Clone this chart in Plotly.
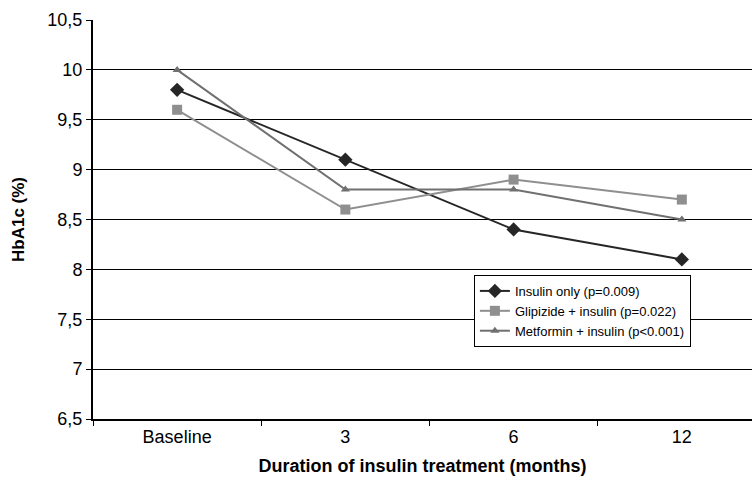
import plotly.graph_objects as go

categories = ["Baseline", "3", "6", "12"]
insulin_only = [9.8, 9.1, 8.4, 8.1]
glipizide_insulin = [9.6, 8.6, 8.9, 8.7]
metformin_insulin = [10.0, 8.8, 8.8, 8.5]
y_tick_vals = [6.5, 7, 7.5, 8, 8.5, 9, 9.5, 10, 10.5]
y_tick_text = ["6,5", "7", "7,5", "8", "8,5", "9", "9,5", "10", "10,5"]

fig = go.Figure()
fig.add_trace(go.Scatter(
    x=categories, y=insulin_only, name="Insulin only (p=0.009)",
    mode="lines+markers", line=dict(color="#262626", width=2),
    marker=dict(symbol="diamond", size=11, color="#262626")))
fig.add_trace(go.Scatter(
    x=categories, y=glipizide_insulin, name="Glipizide + insulin (p=0.022)",
    mode="lines+markers", line=dict(color="#8f8f8f", width=2),
    marker=dict(symbol="square", size=10, color="#8f8f8f")))
fig.add_trace(go.Scatter(
    x=categories, y=metformin_insulin, name="Metformin + insulin (p<0.001)",
    mode="lines+markers", line=dict(color="#707070", width=2),
    marker=dict(symbol="triangle-up", size=8, color="#707070")))

font = "Liberation Sans, Arial, sans-serif"
fig.update_layout(
    width=754, height=488,
    margin=dict(l=93, r=2, t=20, b=69),
    paper_bgcolor="white", plot_bgcolor="white",
    font=dict(family=font, size=18, color="black"),
    showlegend=True,
    legend=dict(x=0.578, y=0.361, xanchor="left", yanchor="top",
                bgcolor="white", bordercolor="black", borderwidth=1,
                font=dict(size=13, family=font), tracegroupgap=0,
                itemwidth=30),
    xaxis=dict(type="category", range=[-0.5, 3.417], automargin=False,
               showline=True, linecolor="black", linewidth=2,
               ticks="outside", tickson="boundaries", ticklen=5,
               tickcolor="black", showgrid=False,
               title=dict(text="<b>Duration of insulin treatment (months)</b>",
                          font=dict(size=18), standoff=14)),
    yaxis=dict(range=[6.5, 10.5], tickvals=y_tick_vals, ticktext=y_tick_text,
               automargin=False,
               showline=True, linecolor="black", linewidth=2,
               ticks="outside", ticklen=5, tickcolor="black",
               showgrid=True, gridcolor="black", gridwidth=1, zeroline=False,
               title=dict(text="<b>HbA1c (%)</b>", font=dict(size=17), standoff=18)),
)

fig.write_html("out.html", config={"displayModeBar": False},
               post_script="document.body.style.margin='0';")
